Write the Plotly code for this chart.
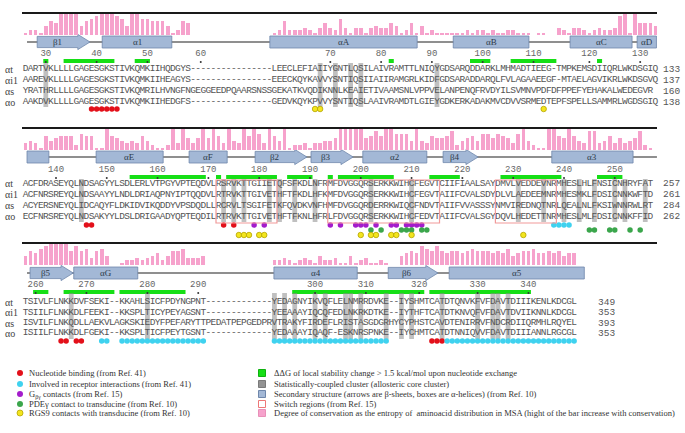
import plotly.graph_objects as go

# ======================= DATA =======================
ROW_NAMES = ["αt", "αi1", "αs", "αo"]

SEQ_B1 = [
    "DARTVKLLLLGAGESGKSTIVKQMKIIHQDGYS----------------LEECLEFIAIIYGNTLQSILAIVRAMTTLNIQYGDSARQDDARKLMHMADTIEEG-TMPKEMSDIIQRLWKDSGIQ",
    "AAREVKLLLLGAGESGKSTIVKQMKIIHEAGYS----------------EEECKQYKAVVYSNTIQSIIAIIRAMGRLKIDFGDSARADDARQLFVLAGAAEEGF-MTAELAGVIKRLWKDSGVQ",
    "YRATHRLLLLGAGESGKSTIVKQMRILHVNGFNGEGGEEDPQAARSNSSGEKATKVQDIKNNLKEAIETIVAAMSNLVPPVELANPENQFRVDYILSVMNVPDFDFPPEFYEHAKALWEDEGVR",
    "AAKDVKLLLLGAGESGKSTIVKQMKIIHEDGFS----------------GEDVKQYKPVVYSNTIQSLAAIVRAMDTLGIEYGDKERKADAKMVCDVVSRMEDTEPFSPELLSAMMRLWGDSGIQ",
]
SEQ_B2 = [
    "ACFDRASEYQLNDSAGYYLSDLERLVTPGYVPTEQDVLRSRVKTTGIIETQFSFKDLNFRMFDVGGQRSERKKWIHCFEGVTCIIFIAALSAYDMVLVEDDEVNRMHESLHLFNSICNHRYFAT",
    "ACFNRSREYQLNDSAAYYLNDLDRIAQPNYIPTQQDVLRTRVKTTGIVETHFTFKDLHFKMFDVGGQRSERKKWIHCFEGVTAIIFCVALSDYDLVLAEDEEMNRMHESMKLFDSICNNKWFTD",
    "ACYERSNEYQLIDCAQYFLDKIDVIKQDDYVPSDQDLLRCRVLTSGIFETKFQVDKVNFHMFDVGGQRDERRKWIQCFNDVTAIIFVVASSSYNMVIREDNQTNRLQEALNLFKSIWNNRWLRT",
    "ECFNRSREYQLNDSAKYYLDSLDRIGAADYQPTEQDILRTRVKTTGIVETHFTFKNLHFRLFDVGGQRSERKKWIHCFEDVTAIIFCVALSGYDQVLHEDETTNRMHESLMLFDSICNNKFFID",
]
SEQ_B3 = [
    "TSIVLFLNKKDVFSEKI--KKAHLSICFPDYNGPNT-------------YEDAGNYIKVQFLELNMRRDVKE--IYSHMTCATDTQNVKFVFDAVTDIIIKENLKDCGL",
    "TSIILFLNKKDLFEEKI--KKSPLTICYPEYAGSNT-------------YEEAAAYIQCQFEDLNKRKDTKE--IYTHFTCATDTKNVQFVFDAVTDVIIKNNLKDCGL",
    "ISVILFLNKQDLLAEKVLAGKSKIEDYFPEFARYTTPEDATPEPGEDPRVTRAKYFIRDEFLRISTASGDGRHYCYPHSTCAVDTENIRRVFNDCRDIIQRMHLRQYEL",
    "ISIILFLNKKDLFGEKI--KKSPLTICFPEYTGSNT-------------YEDAAAYIQAQF-ESKNRSPNKE--IYCHMTCATDTNNIQVVFDAVTDIIIANNLRGCGL",
]
END_B1 = [133, 137, 160, 138]
END_B2 = [257, 261, 284, 262]
END_B3 = [349, 353, 393, 353]

# residue-number ticks: label and alignment column
TICK_LAB_B1 = [30, 40, 50, 60, 70, 80, 90, 100, 110, 120, 130]
TICK_COL_B1 = [4, 14, 24, 34.5, 60, 70, 80, 90, 100, 111, 121]
TICK_LAB_B2 = [140, 150, 160, 170, 180, 190, 200, 210, 220, 230, 240, 250]
TICK_COL_B2 = [6, 16, 26, 36, 46, 56, 66, 76, 86, 96, 106, 116]
TICK_LAB_B3 = [260, 270, 280, 290, 300, 310, 320, 330, 340]
TICK_COL_B3 = [2, 12, 24, 34, 57, 67, 77.5, 89, 99]

# conservation (0-9, taller = more conserved), one value per column
CONS_B1 = [1, 2, 2, 1, 4, 6, 5, 9, 9, 9, 9, 4, 6, 7, 8, 9, 9, 9, 8, 7, 4, 9, 9, 7, 7, 6, 6, 6, 4, 1, 2, 6, 5,
           0, 0, 0, 0, 0, 0, 0, 0, 0, 0, 0, 0, 0, 0, 0, 0,
           1, 2, 6, 2, 2, 2, 3, 2, 1, 3, 5, 3, 2, 7, 3, 1, 3, 3, 1, 3, 4, 3, 3, 5, 4, 1, 2, 5, 1, 4,
           1, 2, 1, 1, 1, 1, 1, 1, 2, 1, 2, 2, 1, 2, 1, 1, 2, 2, 1, 1, 1, 0, 1, 1, 0, 0,
           3, 2, 1, 3, 3, 2, 1, 2, 3, 2, 2, 3, 8, 9, 1, 9, 5, 5, 5, 4]
CONS_B2 = [3, 4, 3, 1, 6, 4, 5, 6, 6, 6, 2, 7, 6, 6, 1, 1, 9, 6, 5, 4, 3, 4, 3, 6, 4, 2, 1, 1, 2, 9, 3,
           9, 5, 3, 5, 9, 5, 9, 6, 3, 9, 4, 3, 9, 6, 9, 7, 3, 9, 6, 4, 9, 1, 2, 2, 3, 1, 3, 3, 4, 4, 5,
           9, 9, 9, 9, 9, 5, 6, 8, 6, 9, 9, 7, 7, 7, 4, 9, 4, 3, 6, 5, 5, 6, 8, 2, 4, 5, 6, 4, 7, 7, 5,
           7, 6, 5, 3, 7, 9, 4, 2, 1, 1, 9, 9, 6, 5, 9, 6, 4, 3, 8, 8, 3, 4, 6, 3, 5, 3, 4, 5, 8, 2, 1]
CONS_B3 = [4, 6, 5, 7, 8, 9, 9, 9, 9, 6, 8, 6, 7, 3, 6, 7, 4,
           0, 0,
           1, 2, 2, 3, 2, 3, 4, 5, 2, 4, 6, 6, 7, 3, 3, 3, 4,
           0, 0, 0, 0, 0, 0, 0, 0, 0, 0, 0, 0, 0,
           2, 2, 3, 2, 1, 2, 3, 2, 1, 4, 2, 2, 3, 1, 1, 4, 1, 2, 3, 1, 1, 2, 1, 0, 0,
           4, 5, 6, 5, 8, 7, 6, 8, 6, 5, 6, 6, 5, 6, 7, 6, 6, 6, 5, 6, 5, 7, 4, 5, 6, 6, 7, 5, 5, 6, 5, 6, 4, 5, 5]

# secondary structure: (label, kind, first column, last column)
SS_B1 = [("β1", "sheet", 2.3, 12.7), ("α1", "helix", 15.1, 28.8), ("αA", "helix", 48.1, 77.1),
         ("αB", "helix", 84.2, 99.1), ("αC", "helix", 107.2, 119.4), ("αD", "helix", 120.4, 124.2)]
SS_B2 = [("", "helix", 0.3, 4.6), ("αE", "helix", 13.9, 27.1), ("αF", "helix", 32.2, 39.7),
         ("β2", "sheet", 45.2, 55.4), ("β3", "sheet", 56.2, 64.5), ("α2", "helix", 66.4, 79.0),
         ("β4", "sheet", 82.2, 89.1), ("α3", "helix", 103.6, 119.6)]
SS_B3 = [("β5", "sheet", 0.9, 9.4), ("αG", "helix", 9.5, 22.1), ("α4", "helix", 48.9, 65.3),
         ("β6", "sheet", 71.4, 81.2), ("α5", "helix", 83.4, 110.0)]
SS_SPAN = [(0.3, 124.1), (0.3, 124.3), (0.3, 83.4)]

# ΔΔG > 1.5 kcal/mol runs (first, last column)
DDG_B1 = [(4, 4), (8, 17), (22, 24), (72, 72), (88, 91), (96, 104), (113, 113)]
DDG_B2 = [(21, 35), (38, 38), (40, 49), (52, 56), (60, 60), (62, 72), (80, 85), (94, 105), (113, 117)]
DDG_B3 = [(2, 4), (8, 17), (19, 31), (53, 78), (80, 99)]

# statistically-coupled (allosteric core) columns
CLUSTER_B1 = [4, 58, 61, 64, 66, 81]
CLUSTER_B2 = [11, 39, 41, 43, 48, 50, 53, 57, 68, 76, 97, 102, 106, 109, 112, 116, 118, 122]
CLUSTER_B3 = [9, 24, 49, 51, 53, 57, 59, 63, 64, 66, 71, 74, 76, 82, 89, 92, 93, 95]

# switch regions (first, last column)
SWITCH_B2 = [(38, 49), (60, 81), (93, 104)]

# contact annotations (columns)
NUC_B1 = [13, 14, 15, 16, 17, 18]
RGS_B1 = [57, 58, 102]
NUC_B2 = [12, 13, 39, 41]
GBG_B2 = [45, 47, 60, 62, 65, 66, 67, 69, 72, 73, 75, 76, 77, 78]
REC_B2 = [104, 105, 106, 107]
PDE_B2 = [68, 70, 74, 75, 76, 78, 79, 111, 112, 115, 116, 119, 121]
RGS_B2 = [42, 43, 44, 46, 47, 66, 68, 69, 72, 73, 76, 98]
NUC_B3 = [7, 8, 10, 11, 80, 81, 82]
REC_RUNS_B3 = [(15, 16), (19, 35), (49, 71), (83, 108)]

LEGEND_LEFT = ["Nucleotide binding (from Ref. 41)",
               "Involved in receptor interactions (from Ref. 41)",
               "G<sub>βγ</sub> contacts (from Ref. 15)",
               "PDEγ contact to transducine (from Ref. 10)",
               "RGS9 contacts with transducine (from Ref. 10)"]
LEGEND_RIGHT = ["ΔΔG of local stability change > 1.5 kcal/mol upon nucleotide exchange",
                "Statistically-coupled cluster (allosteric core cluster)",
                "Secondary structure (arrows are β-sheets, boxes are α-helices) (from Ref. 10)",
                "Switch regions (from Ref. 15)",
                "Degree of conservation as the entropy of  aminoacid distribution in MSA (hight of the bar increase with conservation)"]

# ======================= STYLE / LAYOUT =======================
W, H = 685, 433
PX0, CW = 25.5, 5.08          # pixel of column 0, pixel width of a column


def col(px):
    return (px - PX0) / CW


C_NUC, C_REC, C_GBG, C_PDE, C_RGS = "#e3101a", "#3fd2ef", "#a41ccc", "#3ba64c", "#f3e51e"
C_DDG, C_CLU, C_SSF, C_SSL = "#16df16", "rgba(140,140,140,0.55)", "#a3b8d6", "#6f87ab"
C_SW, C_CONS, C_TXT = "#f19a9a", "#f6a2cc", "#555555"
MONO = "Liberation Mono, Courier New, monospace"
SERIF = "Liberation Serif, Times New Roman, serif"

LAY = [
    dict(top=13, base=35, ss=42, tick=54, green=61, rows=[69, 80, 91, 102], gray=(63, 107),
         sw=(63, 107), dots=(109, 109, 109), end_px=661),
    dict(top=128, base=150, ss=157, tick=170, green=177, rows=[183.5, 194.5, 205.5, 216.5],
         gray=(179, 222), sw=(180, 223), dots=(225, 230, 235), end_px=661),
    dict(top=243, base=265, ss=273, tick=285, green=292, rows=[302, 312.5, 323, 333],
         gray=(293, 339), sw=(293, 339), dots=(341, 346, 351), end_px=596),
]
MAXH = 21.0

BLOCKS = [
    dict(seqs=SEQ_B1, ends=END_B1, tl=TICK_LAB_B1, tc=TICK_COL_B1, cons=CONS_B1, ss=SS_B1,
         ddg=DDG_B1, clu=CLUSTER_B1, sw=[],
         dots=[(NUC_B1, C_NUC, 0), (RGS_B1, C_RGS, 2)]),
    dict(seqs=SEQ_B2, ends=END_B2, tl=TICK_LAB_B2, tc=TICK_COL_B2, cons=CONS_B2, ss=SS_B2,
         ddg=DDG_B2, clu=CLUSTER_B2, sw=SWITCH_B2,
         dots=[(NUC_B2, C_NUC, 0), (GBG_B2, C_GBG, 0), (REC_B2, C_REC, 0),
               (PDE_B2, C_PDE, 1), (RGS_B2, C_RGS, 2)]),
    dict(seqs=SEQ_B3, ends=END_B3, tl=TICK_LAB_B3, tc=TICK_COL_B3, cons=CONS_B3, ss=SS_B3,
         ddg=DDG_B3, clu=CLUSTER_B3, sw=[],
         dots=[(NUC_B3, C_NUC, 0),
               ([c for a, b in REC_RUNS_B3 for c in range(a, b + 1)], C_REC, 0)]),
]

fig = go.Figure()
shapes, annos = [], []

for bi, (blk, ly) in enumerate(zip(BLOCKS, LAY)):
    # top black rule
    shapes.append(dict(type="line", xref="x", yref="y", x0=col(22), x1=col(657),
                       y0=ly["top"], y1=ly["top"], line=dict(color="#1a1a1a", width=2)))
    # conservation bars
    fig.add_trace(go.Bar(x=list(range(len(blk["cons"]))),
                         y=[-v * MAXH / 9.0 for v in blk["cons"]],
                         base=[ly["base"]] * len(blk["cons"]), width=0.72,
                         marker=dict(color=C_CONS, line=dict(width=0)),
                         hoverinfo="skip", showlegend=False))
    # secondary structure backbone line
    s0, s1 = SS_SPAN[bi]
    shapes.append(dict(type="line", xref="x", yref="y", x0=s0, x1=s1, y0=ly["ss"], y1=ly["ss"],
                       line=dict(color="#8f8f8f", width=2), layer="below"))
    for lab, kind, a, b in blk["ss"]:
        yc = ly["ss"]
        if kind == "helix":
            shapes.append(dict(type="rect", xref="x", yref="y", x0=a, x1=b, y0=yc - 6, y1=yc + 6,
                               fillcolor=C_SSF, line=dict(color=C_SSL, width=0.8), layer="below"))
            xm = (a + b) / 2
        else:
            hl = 2.4
            p = (f"M {a},{yc-5.6} L {b-hl},{yc-5.6} L {b-hl},{yc-7.6} L {b},{yc} "
                 f"L {b-hl},{yc+7.6} L {b-hl},{yc+5.6} L {a},{yc+5.6} Z")
            shapes.append(dict(type="path", xref="x", yref="y", path=p, fillcolor=C_SSF,
                               line=dict(color=C_SSL, width=0.8), layer="below"))
            xm = (a + b - hl) / 2
        if lab:
            annos.append(dict(x=xm, y=yc, xref="x", yref="y", text=lab, showarrow=False,
                              font=dict(family=SERIF, size=9, color="#2e3a4a")))
    # ΔΔG green runs
    for a, b in blk["ddg"]:
        shapes.append(dict(type="rect", xref="x", yref="y", x0=a - 0.5, x1=b + 0.5,
                           y0=ly["green"] - 2, y1=ly["green"] + 2, fillcolor=C_DDG,
                           line=dict(width=0), layer="below"))
    # coupled-cluster columns
    for c in blk["clu"]:
        shapes.append(dict(type="rect", xref="x", yref="y", x0=c - 0.47, x1=c + 0.47,
                           y0=ly["gray"][0], y1=ly["gray"][1], fillcolor=C_CLU,
                           line=dict(width=0), layer="below"))
    # switch regions
    for a, b in blk["sw"]:
        shapes.append(dict(type="rect", xref="x", yref="y", x0=a - 0.5, x1=b + 0.5,
                           y0=ly["sw"][0], y1=ly["sw"][1], fillcolor="rgba(0,0,0,0)",
                           line=dict(color=C_SW, width=1.2), layer="above"))
    # tick labels and marks
    fig.add_trace(go.Scatter(x=blk["tc"], y=[ly["tick"]] * len(blk["tc"]), mode="text",
                             text=[str(t) for t in blk["tl"]],
                             textfont=dict(family=MONO, size=9, color="#666666"),
                             hoverinfo="skip", showlegend=False, cliponaxis=False))
    fig.add_trace(go.Scatter(x=blk["tc"], y=[ly["green"] + 1] * len(blk["tc"]), mode="markers",
                             marker=dict(color="#333333", size=2), hoverinfo="skip",
                             showlegend=False))
    # sequences
    for ri, seq in enumerate(blk["seqs"]):
        fig.add_trace(go.Scatter(x=list(range(len(seq))), y=[ly["rows"][ri]] * len(seq),
                                 mode="text", text=list(seq),
                                 textfont=dict(family=MONO, size=9.5, color=C_TXT),
                                 hoverinfo="skip", showlegend=False, cliponaxis=False))
        annos.append(dict(x=col(3), y=ly["rows"][ri], xref="x", yref="y", text=ROW_NAMES[ri],
                          xanchor="left", showarrow=False,
                          font=dict(family=SERIF, size=10, color="#444444")))
        annos.append(dict(x=col(ly["end_px"]), y=ly["rows"][ri], xref="x", yref="y",
                          text=str(blk["ends"][ri]), xanchor="left", showarrow=False,
                          font=dict(family=MONO, size=9.5, color=C_TXT)))
    # annotation dots
    for cols, color, r in blk["dots"]:
        line = dict(color="#b5a400", width=0.8) if color == C_RGS else dict(width=0)
        fig.add_trace(go.Scatter(x=cols, y=[ly["dots"][r]] * len(cols), mode="markers",
                                 marker=dict(color=color, size=5.5, line=line),
                                 hoverinfo="skip", showlegend=False, cliponaxis=False))

# ----------------------- legend -----------------------
LEG_Y = [373, 384, 394, 404, 413]
left_cols = [C_NUC, C_REC, C_GBG, C_PDE, C_RGS]
for i, (txt, c) in enumerate(zip(LEGEND_LEFT, left_cols)):
    line = dict(color="#b5a400", width=0.8) if c == C_RGS else dict(width=0)
    fig.add_trace(go.Scatter(x=[col(20)], y=[LEG_Y[i]], mode="markers",
                             marker=dict(color=c, size=6, line=line),
                             hoverinfo="skip", showlegend=False))
    annos.append(dict(x=col(27), y=LEG_Y[i], xref="x", yref="y", text=txt, xanchor="left",
                      showarrow=False, font=dict(family=SERIF, size=8.5, color="#333333")))
right_fill = [C_DDG, "#939393", C_SSF, "#ffffff", C_CONS]
right_line = ["#10b010", "#7a7a7a", C_SSL, "#ee7777", "#e890b8"]
for i, txt in enumerate(LEGEND_RIGHT):
    fig.add_trace(go.Scatter(x=[col(262)], y=[LEG_Y[i]], mode="markers",
                             marker=dict(symbol="square", color=right_fill[i], size=7,
                                         line=dict(color=right_line[i], width=1)),
                             hoverinfo="skip", showlegend=False))
    annos.append(dict(x=col(272), y=LEG_Y[i], xref="x", yref="y", text=txt, xanchor="left",
                      showarrow=False, font=dict(family=SERIF, size=8.5, color="#333333")))

fig.update_layout(
    width=W, height=H, margin=dict(l=0, r=0, t=0, b=0),
    paper_bgcolor="white", plot_bgcolor="white", barmode="overlay", bargap=0,
    shapes=shapes, annotations=annos, showlegend=False,
    xaxis=dict(range=[col(0), col(W)], visible=False, fixedrange=True),
    yaxis=dict(range=[H, 0], visible=False, fixedrange=True),
)
fig.write_html("out.html", config={"displayModeBar": False},
               post_script="document.body.style.margin='0';document.body.style.overflow='hidden';")
